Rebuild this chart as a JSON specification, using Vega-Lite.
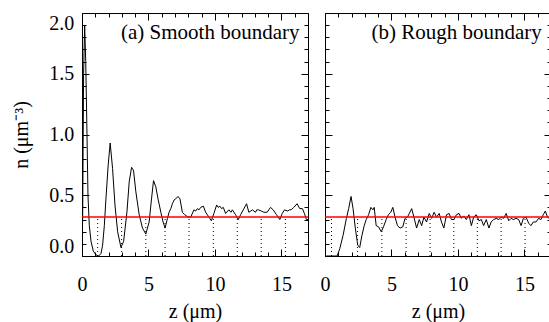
{
  "$schema": "https://vega.github.io/schema/vega-lite/v6.json",
  "padding": {"left": 10, "top": 12, "right": 0, "bottom": 0},
  "background": "white",
  "spacing": 8,
  "config": {
    "view": {"stroke": "black", "strokeWidth": 1},
    "axis": {"domain": false, "grid": false, "tickColor": "black", "tickWidth": 1, "labelFont": "Liberation Serif", "labelFontSize": 20, "labelColor": "black", "titleFont": "Liberation Serif", "titleFontSize": 20, "titleFontWeight": "normal", "titleColor": "black", "minExtent": 0}
  },
  "datasets": {
    "smooth": [
      {"z":0.05,"n":0.3},{"z":0.12,"n":1.5},{"z":0.2,"n":1.9},{"z":0.28,"n":1.6},{"z":0.36,"n":1.1},{"z":0.45,"n":0.5},{"z":0.55,"n":0.25},{"z":0.68,"n":0.12},{"z":0.85,"n":0.04},{"z":1.05,"n":0.01},{"z":1.25,"n":0.0},{"z":1.43,"n":0.02},{"z":1.55,"n":0.09},{"z":1.68,"n":0.25},{"z":1.8,"n":0.47},{"z":1.97,"n":0.75},{"z":2.12,"n":0.93},{"z":2.3,"n":0.72},{"z":2.48,"n":0.42},{"z":2.68,"n":0.2},{"z":2.93,"n":0.07},{"z":3.13,"n":0.12},{"z":3.38,"n":0.36},{"z":3.55,"n":0.61},{"z":3.73,"n":0.73},{"z":3.8,"n":0.72},{"z":3.88,"n":0.7},{"z":4.05,"n":0.53},{"z":4.3,"n":0.34},{"z":4.55,"n":0.23},{"z":4.8,"n":0.18},{"z":5.05,"n":0.28},{"z":5.23,"n":0.47},{"z":5.38,"n":0.62},{"z":5.55,"n":0.57},{"z":5.72,"n":0.47},{"z":5.93,"n":0.36},{"z":6.1,"n":0.28},{"z":6.25,"n":0.23},{"z":6.43,"n":0.31},{"z":6.55,"n":0.36},{"z":6.68,"n":0.39},{"z":6.8,"n":0.43},{"z":6.92,"n":0.46},{"z":7.05,"n":0.47},{"z":7.22,"n":0.49},{"z":7.37,"n":0.47},{"z":7.55,"n":0.36},{"z":7.73,"n":0.34},{"z":7.97,"n":0.32},{"z":8.18,"n":0.32},{"z":8.42,"n":0.38},{"z":8.55,"n":0.37},{"z":8.68,"n":0.39},{"z":8.8,"n":0.38},{"z":8.93,"n":0.4},{"z":9.13,"n":0.41},{"z":9.3,"n":0.36},{"z":9.55,"n":0.32},{"z":9.73,"n":0.29},{"z":9.92,"n":0.35},{"z":10.13,"n":0.42},{"z":10.25,"n":0.4},{"z":10.37,"n":0.41},{"z":10.5,"n":0.39},{"z":10.63,"n":0.4},{"z":10.8,"n":0.35},{"z":11.05,"n":0.38},{"z":11.2,"n":0.36},{"z":11.31,"n":0.38},{"z":11.55,"n":0.34},{"z":11.76,"n":0.3},{"z":11.93,"n":0.34},{"z":12.18,"n":0.39},{"z":12.38,"n":0.43},{"z":12.55,"n":0.36},{"z":12.7,"n":0.37},{"z":12.81,"n":0.38},{"z":13.05,"n":0.36},{"z":13.15,"n":0.38},{"z":13.28,"n":0.38},{"z":13.48,"n":0.37},{"z":13.68,"n":0.36},{"z":13.93,"n":0.36},{"z":14.05,"n":0.38},{"z":14.18,"n":0.4},{"z":14.38,"n":0.38},{"z":14.63,"n":0.34},{"z":14.88,"n":0.3},{"z":15.06,"n":0.35},{"z":15.23,"n":0.38},{"z":15.48,"n":0.37},{"z":15.6,"n":0.38},{"z":15.73,"n":0.38},{"z":15.93,"n":0.4},{"z":16.18,"n":0.43},{"z":16.38,"n":0.39},{"z":16.58,"n":0.39},{"z":16.73,"n":0.35},{"z":16.88,"n":0.3},{"z":17,"n":0.3}
    ],
    "rough": [
      {"z":0,"n":0},{"z":0.5,"n":0},{"z":0.91,"n":0},{"z":1.11,"n":0.06},{"z":1.36,"n":0.17},{"z":1.61,"n":0.31},{"z":1.78,"n":0.39},{"z":1.96,"n":0.49},{"z":2.11,"n":0.39},{"z":2.28,"n":0.23},{"z":2.46,"n":0.09},{"z":2.61,"n":0.07},{"z":2.78,"n":0.17},{"z":2.95,"n":0.25},{"z":3.1,"n":0.3},{"z":3.28,"n":0.34},{"z":3.45,"n":0.4},{"z":3.6,"n":0.38},{"z":3.7,"n":0.4},{"z":3.85,"n":0.25},{"z":4.03,"n":0.24},{"z":4.23,"n":0.2},{"z":4.4,"n":0.24},{"z":4.6,"n":0.3},{"z":4.77,"n":0.34},{"z":4.95,"n":0.36},{"z":5.1,"n":0.4},{"z":5.27,"n":0.32},{"z":5.45,"n":0.25},{"z":5.65,"n":0.23},{"z":5.85,"n":0.24},{"z":6.02,"n":0.31},{"z":6.2,"n":0.32},{"z":6.34,"n":0.35},{"z":6.52,"n":0.39},{"z":6.69,"n":0.32},{"z":6.89,"n":0.23},{"z":7.09,"n":0.3},{"z":7.27,"n":0.25},{"z":7.44,"n":0.32},{"z":7.64,"n":0.28},{"z":7.84,"n":0.35},{"z":8.02,"n":0.31},{"z":8.21,"n":0.36},{"z":8.39,"n":0.32},{"z":8.59,"n":0.35},{"z":8.76,"n":0.28},{"z":8.94,"n":0.23},{"z":9.14,"n":0.34},{"z":9.34,"n":0.35},{"z":9.51,"n":0.3},{"z":9.69,"n":0.3},{"z":9.89,"n":0.34},{"z":10.08,"n":0.35},{"z":10.26,"n":0.31},{"z":10.43,"n":0.33},{"z":10.63,"n":0.3},{"z":10.83,"n":0.34},{"z":11.01,"n":0.25},{"z":11.18,"n":0.32},{"z":11.38,"n":0.34},{"z":11.58,"n":0.29},{"z":11.76,"n":0.3},{"z":11.93,"n":0.25},{"z":12.13,"n":0.3},{"z":12.33,"n":0.23},{"z":12.5,"n":0.28},{"z":12.68,"n":0.3},{"z":12.88,"n":0.31},{"z":13.08,"n":0.3},{"z":13.25,"n":0.32},{"z":13.43,"n":0.31},{"z":13.63,"n":0.35},{"z":13.82,"n":0.29},{"z":14,"n":0.31},{"z":14.17,"n":0.3},{"z":14.37,"n":0.31},{"z":14.57,"n":0.3},{"z":14.75,"n":0.25},{"z":14.92,"n":0.31},{"z":15.12,"n":0.32},{"z":15.32,"n":0.27},{"z":15.49,"n":0.25},{"z":15.67,"n":0.28},{"z":15.87,"n":0.28},{"z":16.07,"n":0.31},{"z":16.24,"n":0.3},{"z":16.42,"n":0.34},{"z":16.57,"n":0.37},{"z":16.74,"n":0.32},{"z":17,"n":0.3}
    ],
    "dotsSmooth": [{"z":1.18},{"z":2.98},{"z":4.8},{"z":6.25},{"z":8.05},{"z":9.88},{"z":11.68},{"z":13.48},{"z":15.3}],
    "dotsRough": [{"z":0.49},{"z":2.45},{"z":4.28},{"z":6.1},{"z":7.9},{"z":9.69},{"z":11.46},{"z":13.25},{"z":15.05}],
    "refSmooth": [{"nref":0.32,"label":"(a) Smooth boundary"}],
    "refRough": [{"nref":0.32,"label":"(b) Rough boundary"}]
  },
  "hconcat": [
    {
      "width": 226, "height": 243,
      "resolve": {"axis": {"x": "independent", "y": "independent"}},
      "layer": [
        {
          "data": {"name": "smooth"},
          "mark": {"type": "line", "color": "black", "strokeWidth": 1},
          "encoding": {
            "x": {"field": "z", "type": "quantitative", "scale": {"domain": [0, 17], "nice": false}, "axis": {"orient": "bottom", "values": [0, 5, 10, 15], "format": "d", "tickSize": -7, "labelPadding": 25, "labelFlush": false, "title": "z (μm)", "titlePadding": 7}},
            "y": {"field": "n", "type": "quantitative", "scale": {"domain": [0, 2], "nice": false}, "axis": {"orient": "left", "values": [0, 0.5, 1, 1.5, 2], "format": ".1f", "tickSize": -7, "labelPadding": 15.3, "labelFlush": true, "title": "n (μm⁻³)", "titlePadding": 16, "minExtent": 35, "maxExtent": 35}}
          }
        },
        {
          "data": {"name": "refSmooth"},
          "mark": {"type": "rule", "color": "#ff0000", "strokeWidth": 1.5},
          "encoding": {
            "x": {"datum": 0, "scale": {"domain": [0, 17], "nice": false}, "axis": {"orient": "bottom", "values": [1,2,3,4,5,6,7,8,9,10,11,12,13,14,15,16,17], "tickSize": -4, "labels": false, "title": null}},
            "x2": {"datum": 17},
            "y": {"field": "nref", "type": "quantitative", "scale": {"domain": [0, 2], "nice": false}, "axis": {"orient": "left", "values": [0.1,0.2,0.3,0.4,0.6,0.7,0.8,0.9,1.1,1.2,1.3,1.4,1.6,1.7,1.8,1.9], "tickSize": -4, "labels": false, "title": null}}
          }
        },
        {
          "data": {"name": "dotsSmooth"},
          "mark": {"type": "rule", "color": "black", "strokeWidth": 1, "strokeDash": [1, 3]},
          "encoding": {
            "x": {"field": "z", "type": "quantitative", "scale": {"domain": [0, 17], "nice": false}, "axis": {"orient": "top", "values": [0, 5, 10, 15], "tickSize": -7, "labels": false, "title": null}},
            "y": {"datum": 0, "scale": {"domain": [0, 2], "nice": false}, "axis": {"orient": "right", "values": [0, 0.5, 1, 1.5, 2], "tickSize": -7, "labels": false, "title": null}},
            "y2": {"datum": 0.32}
          }
        },
        {
          "data": {"name": "refSmooth"},
          "mark": {"type": "text", "align": "right", "baseline": "alphabetic", "font": "Liberation Serif", "fontSize": 21, "color": "black"},
          "encoding": {
            "x": {"datum": 16.36, "scale": {"domain": [0, 17], "nice": false}, "axis": {"orient": "top", "values": [1,2,3,4,5,6,7,8,9,10,11,12,13,14,15,16,17], "tickSize": -4, "labels": false, "title": null}},
            "y": {"datum": 1.79, "scale": {"domain": [0, 2], "nice": false}, "axis": {"orient": "right", "values": [0.1,0.2,0.3,0.4,0.6,0.7,0.8,0.9,1.1,1.2,1.3,1.4,1.6,1.7,1.8,1.9], "tickSize": -4, "labels": false, "title": null}},
            "text": {"field": "label"}
          }
        }
      ]
    },
    {
      "width": 226, "height": 243,
      "resolve": {"axis": {"x": "independent", "y": "independent"}},
      "layer": [
        {
          "data": {"name": "rough"},
          "mark": {"type": "line", "color": "black", "strokeWidth": 1},
          "encoding": {
            "x": {"field": "z", "type": "quantitative", "scale": {"domain": [0, 17], "nice": false}, "axis": {"orient": "bottom", "values": [0, 5, 10, 15], "format": "d", "tickSize": -7, "labelPadding": 25, "labelFlush": false, "title": "z (μm)", "titlePadding": 7}},
            "y": {"field": "n", "type": "quantitative", "scale": {"domain": [0, 2], "nice": false}, "axis": {"orient": "left", "values": [0, 0.5, 1, 1.5, 2], "tickSize": -7, "labels": false, "title": null}}
          }
        },
        {
          "data": {"name": "refRough"},
          "mark": {"type": "rule", "color": "#ff0000", "strokeWidth": 1.5},
          "encoding": {
            "x": {"datum": 0, "scale": {"domain": [0, 17], "nice": false}, "axis": {"orient": "bottom", "values": [1,2,3,4,5,6,7,8,9,10,11,12,13,14,15,16,17], "tickSize": -4, "labels": false, "title": null}},
            "x2": {"datum": 17},
            "y": {"field": "nref", "type": "quantitative", "scale": {"domain": [0, 2], "nice": false}, "axis": {"orient": "left", "values": [0.1,0.2,0.3,0.4,0.6,0.7,0.8,0.9,1.1,1.2,1.3,1.4,1.6,1.7,1.8,1.9], "tickSize": -4, "labels": false, "title": null}}
          }
        },
        {
          "data": {"name": "dotsRough"},
          "mark": {"type": "rule", "color": "black", "strokeWidth": 1, "strokeDash": [1, 3]},
          "encoding": {
            "x": {"field": "z", "type": "quantitative", "scale": {"domain": [0, 17], "nice": false}, "axis": {"orient": "top", "values": [0, 5, 10, 15], "tickSize": -7, "labels": false, "title": null}},
            "y": {"datum": 0, "scale": {"domain": [0, 2], "nice": false}, "axis": {"orient": "right", "values": [0, 0.5, 1, 1.5, 2], "tickSize": -7, "labels": false, "title": null}},
            "y2": {"datum": 0.32}
          }
        },
        {
          "data": {"name": "refRough"},
          "mark": {"type": "text", "align": "right", "baseline": "alphabetic", "font": "Liberation Serif", "fontSize": 21, "color": "black"},
          "encoding": {
            "x": {"datum": 16.31, "scale": {"domain": [0, 17], "nice": false}, "axis": {"orient": "top", "values": [1,2,3,4,5,6,7,8,9,10,11,12,13,14,15,16,17], "tickSize": -4, "labels": false, "title": null}},
            "y": {"datum": 1.79, "scale": {"domain": [0, 2], "nice": false}, "axis": {"orient": "right", "values": [0.1,0.2,0.3,0.4,0.6,0.7,0.8,0.9,1.1,1.2,1.3,1.4,1.6,1.7,1.8,1.9], "tickSize": -4, "labels": false, "title": null}},
            "text": {"field": "label"}
          }
        }
      ]
    }
  ]
}
